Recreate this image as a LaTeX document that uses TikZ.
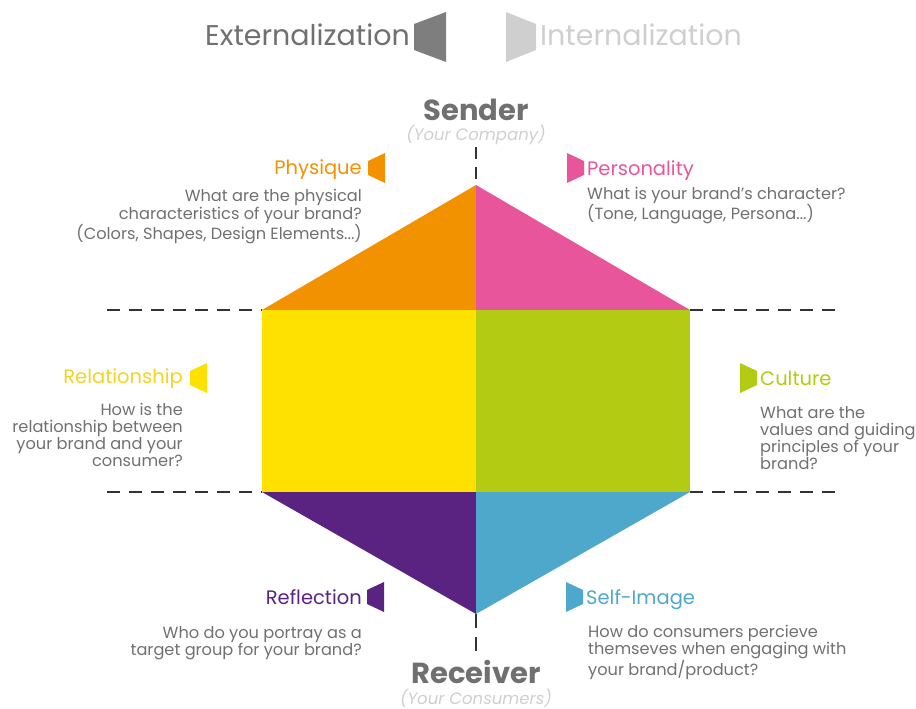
\documentclass[tikz,border=0pt]{standalone}
\usepackage{fontspec}
\setmainfont{Poppins}
\usetikzlibrary{positioning}
\definecolor{physique}{HTML}{F39200}
\definecolor{personality}{HTML}{E9559A}
\definecolor{relation}{HTML}{FFE100}
\definecolor{reltext}{HTML}{F2D521}
\definecolor{culture}{HTML}{B3CB12}
\definecolor{reflection}{HTML}{5B2381}
\definecolor{selfimage}{HTML}{4DA8CC}
\definecolor{txtgray}{HTML}{707070}
\definecolor{ltgray}{HTML}{CFCFCF}
\definecolor{dashgray}{HTML}{333333}

\begin{document}
\begin{tikzpicture}[x=1pt,y=-1pt,
    head/.style={font=\fontsize{19.5}{22}\selectfont,inner sep=0pt},
    body/.style={font=\fontsize{16.2}{17}\selectfont,text=txtgray,inner sep=0pt},
    wide/.style={font=\fontsize{16.2}{18.5}\selectfont},
    title/.style={font=\fontsize{28.5}{32}\selectfont,inner sep=0pt},
    role/.style={font=\fontsize{29}{32}\bfseries\selectfont,text=txtgray,inner sep=0pt},
    sub/.style={font=\fontsize{16.5}{18}\itshape\selectfont,text=ltgray,inner sep=0pt},
    sep/.style={draw=dashgray,line width=2.6pt,dash pattern=on 13pt off 9pt},
    flagl/.pic={\fill (0,0) -- (0,30) -- (-17,22) -- (-17,8) -- cycle;},
    flagr/.pic={\fill (0,0) -- (0,30) -- (17,22) -- (17,8) -- cycle;}]
  \useasboundingbox (0,0) rectangle (916,709);

  % hexagon corners
  \coordinate (top) at (476,185);
  \coordinate (ul) at (262,310);
  \coordinate (um) at (476,310);
  \coordinate (ur) at (690,310);
  \coordinate (ll) at (262,492);
  \coordinate (lm) at (476,492);
  \coordinate (lr) at (690,492);
  \coordinate (bot) at (476,614);

  \fill[physique] (top) -- (ul) -- (um) -- cycle;
  \fill[personality] (top) -- (ur) -- (um) -- cycle;
  \fill[relation] (ul) rectangle (lm);
  \fill[culture] (um) rectangle (lr);
  \fill[reflection] (ll) -- (lm) -- (bot) -- cycle;
  \fill[selfimage] (lm) -- (lr) -- (bot) -- cycle;

  % dashed guides
  \coordinate (ulend) at (107,310);
  \coordinate (urend) at (842,310);
  \coordinate (llend) at (107,492);
  \coordinate (lrend) at (842,492);
  \coordinate (vtop) at (476,147);
  \coordinate (vbot) at (476,651);
  \draw[sep] (ulend) -- (ul);
  \draw[sep] (ur) -- (urend);
  \draw[sep] (llend) -- (ll);
  \draw[sep] (lr) -- (lrend);
  \draw[sep,line width=2.2pt,dash pattern=on 12pt off 8pt] (vtop) -- (top);
  \draw[sep,line width=2.2pt,dash pattern=on 14pt off 9pt] (bot) -- (vbot);

  % titles
  \node[title,text=txtgray,anchor=base east] (ext) at (410,46) {Externalization};
  \fill[txtgray!90] (446,12) -- (446,62) -- (414,50) -- (414,24) -- cycle;
  \node[title,text=ltgray,anchor=base west] (int) at (540,46) {Internalization};
  \fill[ltgray] (506,12) -- (506,62) -- (536,50) -- (536,24) -- cycle;

  \node[role,anchor=base] (sender) at (476,120) {Sender};
  \node[sub,anchor=base] (company) at (476,140) {(Your Company)};
  \node[role,anchor=base] (receiver) at (476,683) {Receiver};
  \node[sub,anchor=base] (consumers) at (476,704) {(Your Consumers)};

  % facets
  \node[head,text=physique,anchor=base east] (phy) at (362,174) {Physique};
  \pic[fill=physique] at (385,153) {flagl};
  \node[body,wide,anchor=north east,align=right] (phytxt) at (362,188.5)
    {What are the physical\\characteristics of your brand?\\(Colors, Shapes, Design Elements...)};

  \node[head,text=personality,anchor=base west] (per) at (587,175) {Personality};
  \pic[fill=personality] at (567,153) {flagr};
  \node[body,wide,anchor=north west,align=left] (pertxt) at (587,186.5)
    {What is your brand's character?\\(Tone, Language, Persona...)};

  \node[head,text=reltext,anchor=base east] (rel) at (183,383) {Relationship};
  \pic[fill=relation] at (207,363) {flagl};
  \node[body,anchor=north east,align=right] (reltxt) at (183,403)
    {How is the\\relationship between\\your brand and your\\consumer?};

  \node[head,text=culture,anchor=base west] (cul) at (760,385) {Culture};
  \pic[fill=culture] at (740,363) {flagr};
  \node[body,anchor=north west,align=left] (cultxt) at (760,406)
    {What are the\\values and guiding\\principles of your\\brand?};

  \node[head,text=reflection,anchor=base east] (ref) at (362,604) {Reflection};
  \pic[fill=reflection] at (384,582) {flagl};
  \node[body,anchor=north east,align=right] (reftxt) at (362,626)
    {Who do you portray as a\\target group for your brand?};

  \node[head,text=selfimage,anchor=base west] (self) at (586,604) {Self-Image};
  \pic[fill=selfimage] at (566,582) {flagr};
  \node[body,anchor=north west,align=left] (selftxt) at (588,625)
    {How do consumers percieve\\themseves when engaging with\\your brand/product?};
\end{tikzpicture}
\end{document}
